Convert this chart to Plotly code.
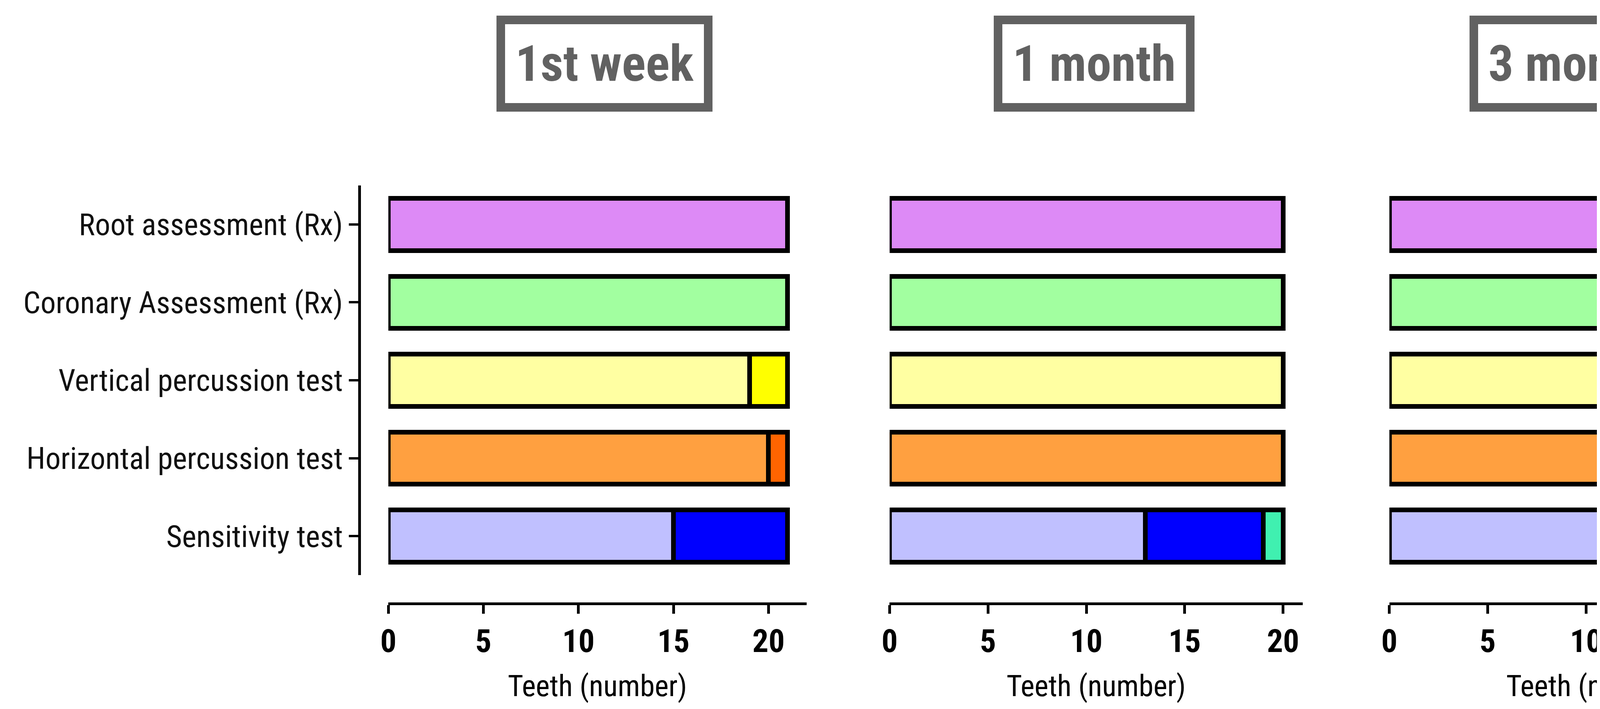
import plotly.graph_objects as go

# ---------------- data ----------------
categories = ["Root assessment (Rx)", "Coronary Assessment (Rx)", "Vertical percussion test",
              "Horizontal percussion test", "Sensitivity test"]
periods = ["1st week", "1 month", "3 months", "6 months"]

series_names = ["No signs of apical injury", "With signs of apical injury",
                "Without secondary caries", "With secondary caries",
                "Negative", "Positive control",
                "Negative", "Positive control",
                "Normal", "Slightly increased", "Greatly increased", "Negative"]
series_row = [0, 0, 1, 1, 2, 2, 3, 3, 4, 4, 4, 4]

no_signs_apical = [21, 20, 20, 19]
with_signs_apical = [0, 0, 0, 1]
without_sec_caries = [21, 20, 20, 20]
with_sec_caries = [0, 0, 0, 0]
vertical_negative = [19, 20, 20, 19]
vertical_positive = [2, 0, 0, 1]
horizontal_negative = [20, 20, 19, 20]
horizontal_positive = [1, 0, 1, 0]
sens_normal = [15, 13, 16, 18]
sens_slight = [6, 6, 4, 1]
sens_great = [0, 1, 0, 0]
sens_negative = [0, 0, 0, 1]

series_values = [no_signs_apical, with_signs_apical, without_sec_caries, with_sec_caries,
                 vertical_negative, vertical_positive, horizontal_negative, horizontal_positive,
                 sens_normal, sens_slight, sens_great, sens_negative]

x_ticks = [0, 5, 10, 15, 20]
x_max = [22, 21, 21, 21]
x_title = "Teeth (number)"

# ---------------- styles ----------------
colors = ["#DD8AF6", "#6B0A9E", "#A2FFA0", "#007800",
          "#FFFFA2", "#FFFF00", "#FFA040", "#FF6400",
          "#C0C0FF", "#0000FF", "#40F0B0", "#007800"]

W, H = 7270, 1816
FAM = "Roboto, DejaVu Sans Condensed, sans-serif"


def cond(t):
    return '<span style="font-stretch:condensed">%s</span>' % t


# pixel layout of each panel's x axis, and vertical extent of the bar area
panel_px = [(968, 2041.6), (2255, 3315.5), (3538, 4598.5), (4746, 5796)]
xaxis_line_px = [1538, 1538, 1538, 1526]
y_top_px, y_bot_px = 467, 1465
title_centers_px = [1523, 2780, 4031, 5261]
title_center_y_px = 155

fig = go.Figure()

for p in range(4):
    ax = "" if p == 0 else str(p + 1)
    for s, name in enumerate(series_names):
        v = series_values[s][p]
        if not v:
            continue
        fig.add_trace(go.Bar(
            y=[categories[series_row[s]]], x=[v], orientation="h", name=name,
            marker=dict(color=colors[s], line=dict(color="black", width=12)),
            xaxis="x" + ax, yaxis="y" + ax, showlegend=False,
        ))

    l, r = panel_px[p]
    fig.layout["xaxis" + ax] = dict(
        domain=[l / W, r / W], range=[0, x_max[p]], anchor="free",
        position=1 - xaxis_line_px[p] / H,
        showline=True, linecolor="black", linewidth=7,
        ticks="outside", ticklen=22, tickwidth=7, tickcolor="black",
        tickmode="array", tickvals=x_ticks, ticktext=[cond(v) for v in x_ticks],
        showgrid=False, zeroline=False,
        tickfont=dict(family=FAM, size=82, color="black", weight="bold"),
        title=dict(text=cond(x_title), font=dict(family=FAM, size=76, color="black"), standoff=40),
    )
    yax = dict(
        domain=[1 - y_bot_px / H, 1 - y_top_px / H],
        type="category", categoryorder="array", categoryarray=categories,
        range=[len(categories) - 0.5, -0.5],
        showgrid=False, zeroline=False,
        anchor="free", position=894 / W,
    )
    if p == 0:
        yax.update(showline=True, linecolor="black", linewidth=7,
                   ticks="outside", ticklen=24, tickwidth=6, tickcolor="black",
                   tickmode="array", tickvals=categories, ticktext=[cond(c) for c in categories],
                   tickfont=dict(family=FAM, size=78, color="#111111"))
    else:
        yax.update(visible=False)
    fig.layout["yaxis" + ax] = yax

    fig.add_annotation(
        text=cond(periods[p]), x=title_centers_px[p] / W, y=1 - title_center_y_px / H,
        xref="paper", yref="paper", showarrow=False, xanchor="center", yanchor="middle",
        font=dict(family=FAM, size=128, color="#616161", weight="bold"),
        bordercolor="#616161", borderwidth=22, borderpad=26, bgcolor="white",
    )

# ---------------- legend built on its own hidden axes ----------------
legend_slots = [0, 1, 2.35, 3.35, 4.65, 5.6, 6.6, 7.6, 8.82, 9.82, 10.82, 11.82]
slot_px = 103
first_px = 453
fig.add_trace(go.Scatter(
    x=[0] * len(series_names), y=legend_slots, mode="markers",
    marker=dict(symbol="square", size=76, color=colors, line=dict(color="black", width=10)),
    xaxis="x5", yaxis="y5", showlegend=False, hoverinfo="skip",
))
fig.add_trace(go.Scatter(
    x=[1] * len(series_names), y=legend_slots, mode="text", text=[cond(n) for n in series_names],
    textposition="middle right",
    textfont=dict(family=FAM, size=75, color="#1a1a1a"),
    xaxis="x5", yaxis="y5", showlegend=False, hoverinfo="skip",
))
leg_l, leg_r = 6409, 6492
fig.layout["xaxis5"] = dict(domain=[leg_l / W - 0.02, 1], visible=False,
                           range=[-(0.02 * W) / (leg_r - leg_l), (W - leg_l) / (leg_r - leg_l)])
fig.layout["yaxis5"] = dict(domain=[0, 1], visible=False,
                           range=[(H - first_px) / slot_px, -first_px / slot_px])

fig.update_layout(
    width=W, height=H, margin=dict(l=0, r=0, t=0, b=0),
    barmode="stack", bargap=0.33,
    paper_bgcolor="white", plot_bgcolor="white", showlegend=False,
)

fig.write_html("out.html")
